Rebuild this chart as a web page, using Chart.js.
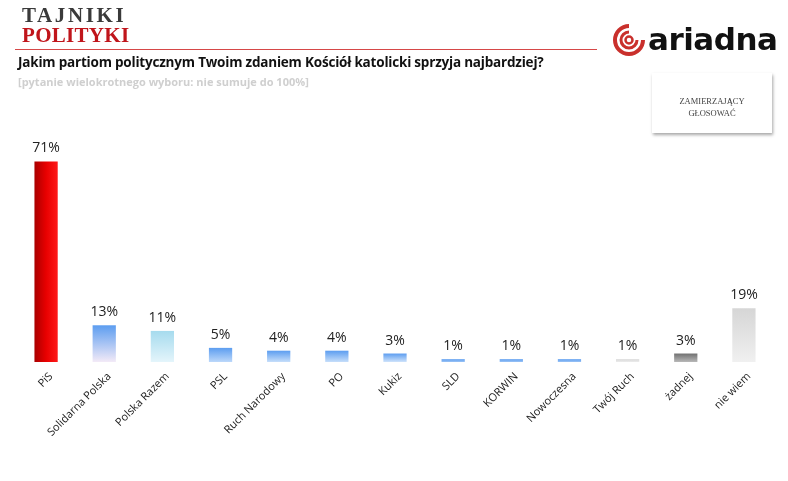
<!DOCTYPE html>
<html>
<head>
<meta charset="utf-8">
<script src="https://cdn.jsdelivr.net/npm/chart.js@4.4.0/dist/chart.umd.min.js"></script>
<style>
	html, body { margin: 0; padding: 0; background: #fff; }
	#page { position: relative; width: 788px; height: 481px; overflow: hidden; font-family: "Open Sans", sans-serif; }
	#chart-wrap { position: absolute; left: 0; top: 0; width: 788px; height: 481px; }
	.logo-tp { position: absolute; left: 22px; top: 5px; font-family: "Liberation Serif", serif; font-weight: bold; font-size: 21px; line-height: 20px; }
	.logo-tp .t1 { color: #3a3a3a; letter-spacing: 2.6px; }
	.logo-tp .t2 { color: #c0151b; letter-spacing: 0.3px; }
	.rule { position: absolute; left: 15px; top: 49px; width: 582px; height: 1px; background: #d64848; }
	.title { position: absolute; left: 18px; top: 53px; font-weight: bold; font-size: 13.5px; letter-spacing: -0.2px; color: #111; white-space: nowrap; }
	.subtitle { position: absolute; left: 18px; top: 74px; font-weight: bold; font-size: 11px; color: #cfcfcf; white-space: nowrap; }
	.ariadna { position: absolute; left: 648px; top: 21px; font-family: "DejaVu Sans", sans-serif; font-weight: bold; font-size: 31px; color: #111; letter-spacing: -0.5px; }
	.box { position: absolute; left: 652px; top: 73px; width: 120px; height: 60px; background: #fff; box-shadow: 1px 2px 3px rgba(0,0,0,0.35); }
	.box div { font-family: "Liberation Serif", serif; font-size: 8.5px; color: #444; text-align: center; line-height: 12px; padding-top: 22px; }
</style>
</head>
<body>
<div id="page">
	<div id="chart-wrap"><canvas id="chart"></canvas></div>
	<div class="logo-tp"><div class="t1">TAJNIKI</div><div class="t2">POLITYKI</div></div>
	<div class="rule"></div>
	<div class="title">Jakim partiom politycznym Twoim zdaniem Kościół katolicki sprzyja najbardziej?</div>
	<div class="subtitle">[pytanie wielokrotnego wyboru: nie sumuje do 100%]</div>
	<svg style="position:absolute;left:612px;top:23px" width="34" height="34" viewBox="0 0 34 34">
		<path d="M17 3 A14 14 0 1 0 31 17" fill="none" stroke="#c9302c" stroke-width="4"/>
		<path d="M17 9 A8 8 0 1 0 25 17" fill="none" stroke="#c9302c" stroke-width="3"/>
		<circle cx="17" cy="17" r="3.5" fill="none" stroke="#c9302c" stroke-width="2.5"/>
	</svg>
	<div class="ariadna">ariadna</div>
	<div class="box"><div>ZAMIERZAJĄCY<br>GŁOSOWAĆ</div></div>
</div>
<script>
const categories = ["PiS", "Solidarna Polska", "Polska Razem", "PSL", "Ruch Narodowy", "PO", "Kukiz", "SLD", "KORWIN", "Nowoczesna", "Twój Ruch", "żadnej", "nie wiem"];
const values = [71, 13, 11, 5, 4, 4, 3, 1, 1, 1, 1, 3, 19];
// top / bottom colours for each bar's gradient
const topColors = ["#e00000", "#5c9df0", "#a6dbee", "#5c9df0", "#5c9df0", "#5c9df0", "#5c9df0", "#5c9df0", "#5c9df0", "#5c9df0", "#d8d8d8", "#707070", "#d6d6d6"];
const bottomColors = ["#d00000", "#f3eaf7", "#e4f5fb", "#bcd8fa", "#c6defa", "#c6defa", "#cfe3fb", "#9cc4f5", "#9cc4f5", "#9cc4f5", "#ececec", "#b8b8b8", "#f0f0f0"];

const barGradient = context => {
	const chart = context.chart;
	const i = context.dataIndex;
	if (!chart.chartArea || !chart.scales.y) return topColors[i];
	const ctx = chart.ctx;
	if (i === 0) {
		const x = chart.scales.x.getPixelForValue(0);
		const g = ctx.createLinearGradient(x - 12, 0, x + 12, 0);
		g.addColorStop(0, "#a80000");
		g.addColorStop(0.5, "#e80000");
		g.addColorStop(1, "#ff1a1a");
		return g;
	}
	const yTop = chart.scales.y.getPixelForValue(values[i]);
	const yBottom = chart.scales.y.getPixelForValue(0);
	const g = ctx.createLinearGradient(0, yTop, 0, yBottom);
	g.addColorStop(0, topColors[i]);
	g.addColorStop(1, bottomColors[i]);
	return g;
};

const valueLabels = {
	id: "valueLabels",
	afterDatasetsDraw(chart) {
		const ctx = chart.ctx;
		const meta = chart.getDatasetMeta(0);
		ctx.save();
		ctx.font = "14px 'Open Sans', sans-serif";
		ctx.fillStyle = "#222";
		ctx.textAlign = "center";
		ctx.textBaseline = "bottom";
		meta.data.forEach((bar, i) => {
			ctx.fillText(values[i] + "%", bar.x, bar.y - 6);
		});
		ctx.restore();
	}
};

new Chart(document.getElementById("chart"), {
	type: "bar",
	data: {
		labels: categories,
		datasets: [{
			data: values,
			backgroundColor: barGradient,
			barPercentage: 0.4,
			categoryPercentage: 1
		}]
	},
	options: {
		responsive: true,
		maintainAspectRatio: false,
		animation: false,
		layout: { padding: { top: 136, left: 17, right: 15, bottom: 0 } },
		plugins: { legend: { display: false }, tooltip: { enabled: false } },
		scales: {
			x: {
				grid: { display: false },
				border: { display: false },
				afterFit: scale => { scale.height = 119; },
				ticks: {
					minRotation: 45,
					maxRotation: 45,
					autoSkip: false,
					padding: 0,
					labelOffset: 5,
					color: "#222",
					font: { family: "'Open Sans', sans-serif", size: 11 }
				}
			},
			y: {
				display: false,
				min: 0,
				max: 80
			}
		}
	},
	plugins: [valueLabels]
});
</script>
</body>
</html>
